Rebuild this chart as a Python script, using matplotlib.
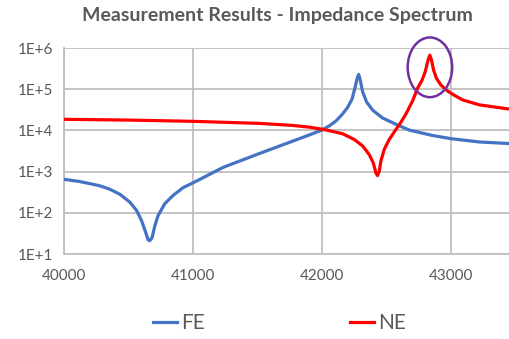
import matplotlib
matplotlib.use("Agg")
import matplotlib.pyplot as plt
from matplotlib.patches import Ellipse
from matplotlib.lines import Line2D

plt.rcParams['font.family'] = ['Lato', 'DejaVu Sans']

title = "Measurement Results - Impedance Spectrum"
series_names = ["FE", "NE"]

fe_freq = [40000, 40120, 40227, 40278, 40356, 40433, 40510, 40562, 40601, 40634,
           40652, 40665, 40683, 40704, 40729, 40781, 40845, 40923, 40995, 41052,
           41232, 41490, 41748, 41877, 42000, 42057, 42109, 42160, 42199, 42233,
           42258, 42276, 42285, 42297, 42315, 42346, 42393, 42470, 42573, 42676,
           42850, 43000, 43217, 43450]
fe_imp = [650, 575, 490, 452, 372, 282, 182, 115, 65, 33,
          22, 21, 25, 48, 85, 166, 263, 407, 525, 645,
          1260, 2570, 5130, 7240, 10200, 12900, 17000, 25100, 36300, 57500,
          115000, 200000, 228000, 166000, 87000, 49000, 31000, 20000, 14100, 10200,
          7600, 6300, 5250, 4800]

ne_freq = [40000, 40500, 41000, 41516, 41772, 41900, 42000, 42060, 42160, 42251,
           42315, 42367, 42398, 42418, 42431, 42444, 42457, 42483, 42521, 42573,
           42612, 42651, 42703, 42741, 42776, 42800, 42823, 42836, 42849, 42865,
           42888, 42922, 42973, 43000, 43037, 43090, 43220, 43450]
ne_imp = [18600, 17800, 16600, 14800, 13200, 12000, 10700, 9800, 8300, 6000,
          4200, 2570, 1620, 930, 800, 1020, 1820, 3470, 6000, 10500,
          15800, 25000, 52500, 105000, 166000, 263000, 513000, 670000, 513000, 295000,
          182000, 126000, 91000, 80000, 68000, 55000, 41700, 33000]

x_ticks = [40000, 41000, 42000, 43000]
y_ticks = [1e1, 1e2, 1e3, 1e4, 1e5, 1e6]
y_tick_labels = ["1E+1", "1E+2", "1E+3", "1E+4", "1E+5", "1E+6"]

highlight_center = (42837, 3.4e5)

W, H = 509, 339
fig = plt.figure(figsize=(W / 100, H / 100), dpi=100)
ax = fig.add_axes([64 / W, 1 - 254 / H, (509 - 64) / W, (254 - 48) / H])

text_color = "#595959"
grid_color = "#BFBFBF"

ax.plot(fe_freq, fe_imp, color="#4472C4", lw=2.3, solid_capstyle="round",
        solid_joinstyle="round", zorder=3)
ax.plot(ne_freq, ne_imp, color="#FF0000", lw=2.3, solid_capstyle="round",
        solid_joinstyle="round", zorder=4)

ax.set_yscale("log")
ax.set_xlim(40000, 43450)
ax.set_ylim(1e1, 1e6)
ax.set_xticks(x_ticks)
ax.set_xticklabels([str(v) for v in x_ticks])
ax.set_yticks(y_ticks)
ax.set_yticklabels(y_tick_labels)
ax.minorticks_off()
ax.tick_params(length=0, labelsize=11, colors=text_color, pad=8)
ax.tick_params(axis='x', pad=11)
ax.grid(True, color=grid_color, lw=1.3)
ax.set_axisbelow(True)
for s in ["top", "right"]:
    ax.spines[s].set_visible(False)
for s in ["left", "bottom"]:
    ax.spines[s].set_color(grid_color)
    ax.spines[s].set_linewidth(1.3)

# highlight ellipse around NE peak
fig.canvas.draw()
cx, cy = ax.transAxes.inverted().transform(ax.transData.transform(highlight_center))
ax.add_patch(Ellipse((cx, cy), 0.1, 0.29, transform=ax.transAxes,
                     fill=False, edgecolor="#7030A0", lw=1.8, zorder=5, clip_on=False))

fig.text(277 / W, 1 - 15 / H, title, ha="center", va="center",
         fontsize=14, fontweight="bold", color=text_color)

handles = [Line2D([], [], color="#4472C4", lw=2.3),
           Line2D([], [], color="#FF0000", lw=2.3)]
fig.legend(handles, series_names, loc="center", bbox_to_anchor=(279.5 / W, 1 - 323 / H),
           ncol=2, frameon=False, fontsize=15, handlelength=1.15, handletextpad=0.2,
           columnspacing=7.0, labelcolor=text_color)

fig.savefig("out.png", dpi=100)
